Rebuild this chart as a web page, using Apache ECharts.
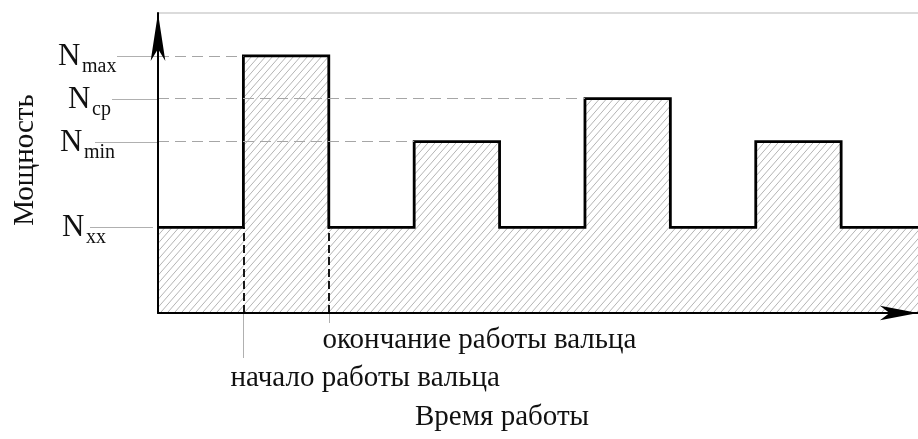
<!DOCTYPE html>
<html>
<head>
<meta charset="utf-8">
<script src="https://cdn.jsdelivr.net/npm/echarts@6/dist/echarts.min.js"></script>
<style>
  html, body { margin: 0; padding: 0; background: #fff; }
  #chart { width: 918px; height: 439px; }
</style>
</head>
<body>
<div id="chart"></div>
<script>
// Ступенчатая диаграмма мощности привода вальцов во времени

// Границы интервалов по времени (условные единицы)
const timeBounds = [0, 1, 2, 3, 4, 5, 6, 7, 8, 8.9];
// Мощность на каждом интервале (условные единицы)
const segmentPower = [2, 6, 2, 4, 2, 5, 2, 4, 2];
// Уровни мощности и их индексы в обозначениях
const levelValues = [6, 5, 4, 2];
const levelSubs = ['max', 'ср', 'min', 'хх'];
const powerMax = 7;
// Интервал работы вальца (индексы в timeBounds)
const workStartIdx = 1;
const workEndIdx = 2;

const titleY = 'Мощность';
const titleX = 'Время работы';
const noteStart = 'начало работы вальца';
const noteEnd = 'окончание работы вальца';

const SERIF = '"Liberation Serif", "Times New Roman", serif';

// Штриховка "/" для заливки под графиком
function hatchPattern() {
  const w = 7, h = 8;
  const c = document.createElement('canvas');
  c.width = w; c.height = h;
  const g = c.getContext('2d');
  g.strokeStyle = '#b4b4b4';
  g.lineWidth = 1;
  g.beginPath();
  g.moveTo(0, h); g.lineTo(w, 0);
  g.moveTo(-w, h); g.lineTo(0, 0);
  g.moveTo(w, h); g.lineTo(2 * w, 0);
  g.stroke();
  return c;
}

// Точки ступенчатой линии
const stepPoints = segmentPower.map((p, i) => [timeBounds[i], p]);
stepPoints.push([timeBounds[timeBounds.length - 1], segmentPower[segmentPower.length - 1]]);

const idleLevel = Math.min.apply(null, levelValues);

// Горизонтальные штриховые линии от оси до первой ступени данного уровня
const guideLines = levelValues.filter(v => v !== idleLevel).map(v => {
  const idx = segmentPower.indexOf(v);
  return [
    { coord: [timeBounds[0], v], lineStyle: { color: '#a6a6a6', width: 1, type: [11, 6] } },
    { coord: [timeBounds[idx], v] }
  ];
});
// Вертикальные штриховые линии начала и окончания работы вальца
const workLines = [workStartIdx, workEndIdx].map(i => [
  { coord: [timeBounds[i], 0], lineStyle: { color: '#000', width: 1.8, type: [8, 4] } },
  { coord: [timeBounds[i], idleLevel] }
]);

const tMin = timeBounds[0];
const tMax = timeBounds[timeBounds.length - 1];

const chart = echarts.init(document.getElementById('chart'), null, { renderer: 'canvas' });

chart.setOption({
  animation: false,
  backgroundColor: '#fff',
  grid: { left: 158, right: 0, top: 13, bottom: 126, containLabel: false },
  xAxis: [
    {
      type: 'value', min: tMin, max: tMax, z: 10,
      axisLine: {
        show: true, onZero: false,
        lineStyle: { color: '#000', width: 2 },
        symbol: ['none', 'arrow'], symbolSize: [11, 38], symbolOffset: [0, 0]
      },
      axisTick: { show: false }, axisLabel: { show: false }, splitLine: { show: false }
    },
    {
      type: 'value', min: tMin, max: tMax, position: 'top', z: 1,
      axisLine: { show: true, onZero: false, lineStyle: { color: '#cfcfcf', width: 1.5 } },
      axisTick: { show: false }, axisLabel: { show: false }, splitLine: { show: false }
    }
  ],
  yAxis: {
    type: 'value', min: 0, max: powerMax, z: 10,
    axisLine: {
      show: true, onZero: false,
      lineStyle: { color: '#000', width: 2 },
      symbol: ['none', 'arrow'], symbolSize: [11, 48], symbolOffset: [0, 0]
    },
    axisTick: { show: false }, axisLabel: { show: false }, splitLine: { show: false }
  },
  series: [
    {
      type: 'line',
      step: 'end',
      data: stepPoints,
      symbol: 'none',
      clip: false,
      z: 3,
      lineStyle: { color: '#000', width: 2.8, join: 'miter' },
      areaStyle: { color: { image: hatchPattern(), repeat: 'repeat' }, opacity: 1 },
      markLine: {
        silent: true,
        symbol: ['none', 'none'],
        label: { show: false },
        z: 4,
        data: guideLines.concat(workLines)
      }
    }
  ]
});

// Подписи уровней, выноски и пояснения
const px = (x, y) => chart.convertToPixel({ gridIndex: 0 }, [x, y]);
const axisX = px(tMin, 0)[0];
const axisY = px(tMin, 0)[1];

const labelLeft = [58, 68, 60, 62];
const leaderLeft = [117, 112, 95, 90];
const graphics = [];

levelValues.forEach((v, i) => {
  const y = Math.round(px(tMin, v)[1]) + 0.5;
  const right = v === idleLevel ? axisX - 5 : axisX;
  graphics.push({
    type: 'line', silent: true,
    shape: { x1: leaderLeft[i], y1: y, x2: right, y2: y },
    style: { stroke: '#b0b0b0', lineWidth: 1 }
  });
  graphics.push({
    type: 'text', silent: true, x: labelLeft[i], y: y,
    style: { text: 'N', fontSize: 31, fontFamily: SERIF, fill: '#111', align: 'left', verticalAlign: 'middle' }
  });
  graphics.push({
    type: 'text', silent: true, x: labelLeft[i] + 24, y: y + 10,
    style: { text: levelSubs[i], fontSize: 20, fontFamily: SERIF, fill: '#111', align: 'left', verticalAlign: 'middle' }
  });
});

// Выноски от линий начала и окончания работы
const xs = Math.round(px(timeBounds[workStartIdx], 0)[0]) + 0.5;
const xe = Math.round(px(timeBounds[workEndIdx], 0)[0]) + 0.5;
graphics.push({
  type: 'line', silent: true,
  shape: { x1: xs, y1: axisY, x2: xs, y2: axisY + 45 },
  style: { stroke: '#b0b0b0', lineWidth: 1 }
});
graphics.push({
  type: 'line', silent: true,
  shape: { x1: xe, y1: axisY, x2: xe, y2: axisY + 10 },
  style: { stroke: '#b0b0b0', lineWidth: 1 }
});
graphics.push({
  type: 'text', silent: true, x: xe - 7, y: axisY + 27,
  style: { text: noteEnd, fontSize: 29, fontFamily: SERIF, fill: '#111', align: 'left', verticalAlign: 'middle' }
});
graphics.push({
  type: 'text', silent: true, x: xs - 13, y: axisY + 65,
  style: { text: noteStart, fontSize: 29, fontFamily: SERIF, fill: '#111', align: 'left', verticalAlign: 'middle' }
});
// Названия осей
graphics.push({
  type: 'text', silent: true, x: 415, y: axisY + 104,
  style: { text: titleX, fontSize: 29, fontFamily: SERIF, fill: '#111', align: 'left', verticalAlign: 'middle' }
});
graphics.push({
  type: 'text', silent: true, x: 25, y: 160, rotation: Math.PI / 2,
  style: { text: titleY, fontSize: 29, fontFamily: SERIF, fill: '#111', align: 'center', verticalAlign: 'middle' }
});

chart.setOption({ graphic: graphics });
</script>
</body>
</html>
